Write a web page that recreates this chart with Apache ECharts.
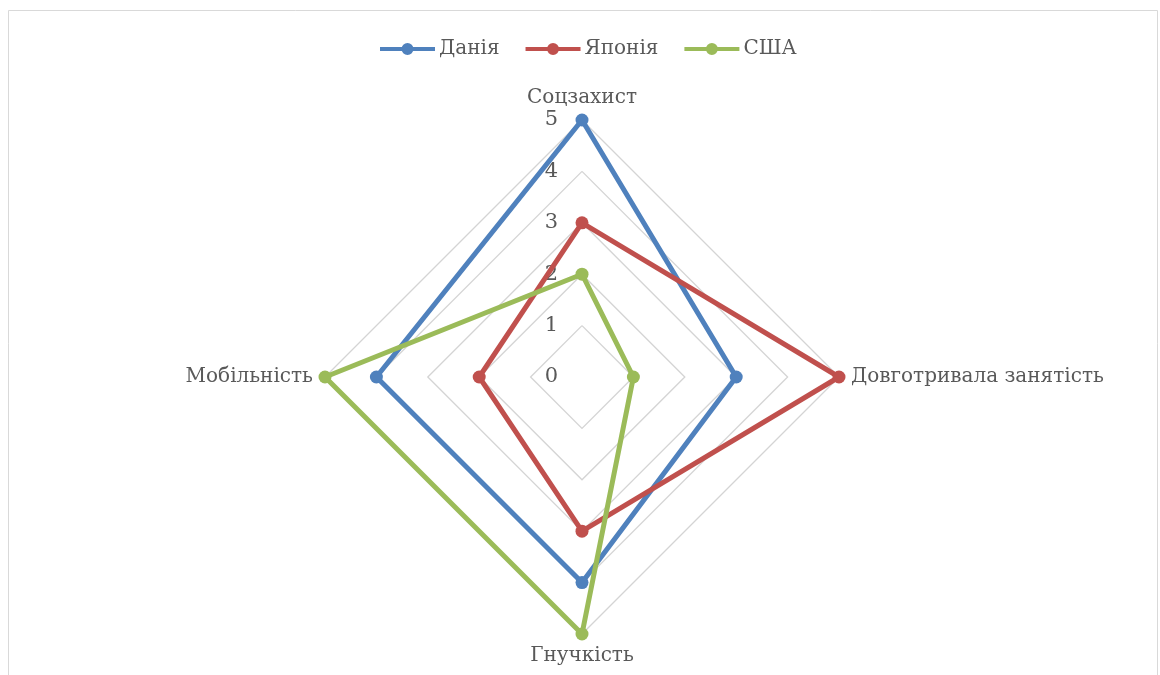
<!DOCTYPE html>
<html>
<head>
<meta charset="utf-8">
<script src="https://cdn.jsdelivr.net/npm/echarts@6/dist/echarts.min.js"></script>
<style>
  html, body { margin: 0; padding: 0; background: #ffffff; }
  #chart { width: 1160px; height: 675px; }
</style>
</head>
<body>
<div id="chart"></div>
<script>
// Radar axes, listed in drawing order (counter-clockwise from the top)
const categories = ['Соцзахист', 'Мобільність', 'Гнучкість', 'Довготривала занятість'];
const seriesNames = ['Данія', 'Японія', 'США'];
// Scores per axis, same order as categories
const denmark = [5, 4, 4, 3];
const japan = [3, 2, 3, 5];
const usa = [2, 5, 5, 1];
const scaleTicks = [0, 1, 2, 3, 4, 5];

const colors = ['#4f81bd', '#c0504d', '#9bbb59'];
const values = [denmark, japan, usa];
const FONT = 'DejaVu Serif';
const TEXT = '#595959';

const center = [582, 377];
const radius = 257;
const scaleMax = scaleTicks[scaleTicks.length - 1];

// Legend glyph: a thick line with a dot in the middle
const legendIcon = 'path://M0,4h22.5v4h-22.5z M32.5,4h22.5v4h-22.5z M21.5,6a6,6 0 1,1 12,0a6,6 0 1,1 -12,0z';

const chart = echarts.init(document.getElementById('chart'), null, { renderer: 'canvas' });

chart.setOption({
  backgroundColor: '#ffffff',
  animation: false,
  color: colors,
  graphic: [{
    type: 'rect',
    shape: { x: 8.5, y: 10.5, width: 1149, height: 700 },
    style: { fill: 'none', stroke: '#d9d9d9', lineWidth: 1 },
    silent: true,
    z: -10
  }],
  legend: {
    top: 34,
    left: 375,
    padding: 5,
    data: seriesNames,
    icon: legendIcon,
    itemWidth: 55,
    itemHeight: 12,
    itemGap: 26,
    textStyle: { fontFamily: FONT, fontSize: 20, color: TEXT, padding: [0, 0, 0, -1] }
  },
  radar: {
    center: center,
    radius: radius,
    startAngle: 90,
    shape: 'polygon',
    splitNumber: scaleTicks.length - 1,
    indicator: categories.map(name => ({ name: name, min: 0, max: scaleMax })),
    axisName: { fontFamily: FONT, fontSize: 20, color: TEXT },
    nameGap: 12,
    axisLine: { show: false },
    axisTick: { show: false },
    axisLabel: { show: false },
    splitLine: { lineStyle: { color: '#d4d4d4', width: 1.3 } },
    splitArea: { show: false }
  },
  // Value scale printed along the upper axis
  grid: {
    left: center[0] - 22,
    top: center[1] - radius,
    height: radius,
    width: 1,
    containLabel: false
  },
  xAxis: { type: 'value', show: false },
  yAxis: {
    type: 'value',
    min: scaleTicks[0],
    max: scaleMax,
    interval: 1,
    axisLine: { show: false },
    axisTick: { show: false },
    splitLine: { show: false },
    axisLabel: { fontFamily: FONT, fontSize: 21, color: TEXT, margin: 2 }
  },
  series: [{
    type: 'radar',
    symbol: 'circle',
    symbolSize: 13,
    data: seriesNames.map((name, i) => ({
      name: name,
      value: values[i],
      itemStyle: { color: colors[i] },
      lineStyle: { color: colors[i], width: 5 }
    }))
  }]
});
</script>
</body>
</html>
